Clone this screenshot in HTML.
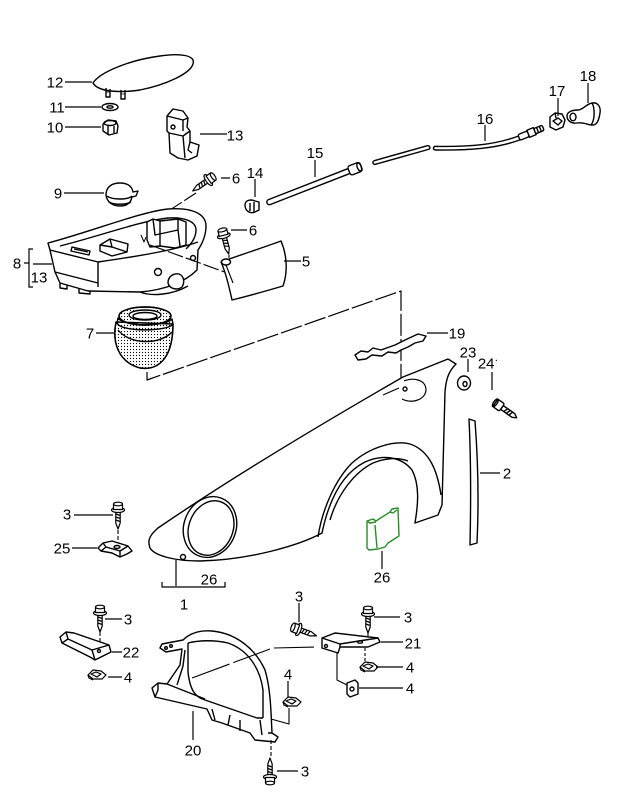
<!DOCTYPE html>
<html><head><meta charset="utf-8"><style>
html,body{margin:0;padding:0;background:#fff}
svg{display:block}
text{font-family:"Liberation Sans",sans-serif;font-size:15px;fill:#000;text-anchor:middle}
</style></head><body>
<svg width="643" height="797" viewBox="0 0 643 797" xmlns="http://www.w3.org/2000/svg">
<defs>
<pattern id="dots" width="3" height="3" patternUnits="userSpaceOnUse"><circle cx="1.5" cy="1.5" r="0.6" fill="#000"/></pattern>
<g id="bolt" stroke="#000" stroke-width="1.2" fill="#fff">
  <path d="M-2.2,8 L-2.2,20 L0,26 L2.2,20 L2.2,8 Z"/>
  <path d="M-2.2,11 L2.2,12.5 M-2.2,14 L2.2,15.5 M-2.2,17 L2.2,18.5" fill="none"/>
  <ellipse cx="0" cy="7" rx="6.5" ry="2.5"/>
  <path d="M-4.5,1 L-4.5,6.5 L4.5,6.5 L4.5,1 Z"/>
  <ellipse cx="0" cy="1" rx="4.5" ry="1.8"/>
</g>
<g id="clip" stroke="#000" stroke-width="1.2" fill="#fff">
  <path d="M0,5 L5,0 L13,1 L18,5 L14,9 L5,9 Z"/>
  <path d="M3,4 L8,2 L13,4 L9,7 Z M0,5 L1,8 L5,10" fill="none"/>
</g>
</defs>

<g fill="none" stroke="#000" stroke-width="1.4" stroke-linejoin="round">

<!-- 12 pad -->
<path d="M93,83 C100,72 130,60 160,56 C180,53 196,55 193,64 C190,74 165,85 140,90 C120,93 98,92 93,83 Z" fill="#fff"/>
<path d="M106,88 L106,97 L110,97 L110,89 M121,90 L121,99 L125,99 L125,90"/>
<path d="M106,92 L110,92 M121,94 L125,94" stroke-width="0.8"/>
<!-- 11 washer -->
<ellipse cx="110" cy="107" rx="8" ry="3.5" fill="#fff"/>
<ellipse cx="110" cy="107" rx="3" ry="1.2"/>
<!-- 10 nut -->
<path d="M103,124 L108,120 L116,121 L118,126 L117,133 L109,135 L103,131 Z" fill="#fff"/>
<ellipse cx="110" cy="123" rx="6" ry="2.5"/>
<path d="M108,126 L108,134 M114,126 L114,133"/>

<!-- 13 clip -->
<path d="M167,116 L173,109 L183,111 L188,118 L187,127 L190,131 L190,142 L199,145 L197,156 L188,160 L178,158 L170,153 L169,133 L167,131 Z" fill="#fff"/>
<path d="M167,116 L183,120 L188,118 M183,120 L183,131 M169,133 L183,136 L190,131 M183,136 L185,158 M190,142 L188,150 L192,153"/>
<circle cx="173" cy="127" r="2"/>

<!-- 9 -->
<path d="M106,195 C106,186 113,183 120,183 C127,183 132,186 133,192 L138,191 L136,196 L132,197 C131,202 128,206 120,206 C112,206 107,202 106,195 Z" fill="#fff"/>
<path d="M107,196 C112,200 128,200 132,196 M109,202 C114,205 126,205 131,202"/>

<!-- 6 upper bolt -->
<use href="#bolt" transform="translate(214,176) rotate(55)"/>
<path d="M196,193 L150,223" stroke-width="1.1" stroke-dasharray="14 3"/>

<!-- 14 -->
<path d="M245,205 C245,200 251,199 255,201 L259,202 L259,210 L255,212 C250,214 245,211 245,205 Z" fill="#fff"/>
<path d="M250,203 L250,211 M254,202 L254,212"/>

<!-- 15 rod -->
<g transform="translate(267,203) rotate(-21.3)">
  <rect x="0" y="-2.6" width="90" height="5.2" rx="2.6" fill="#fff"/>
  <rect x="88" y="-4.8" width="13" height="9.6" rx="2.5" fill="#fff"/>
  <ellipse cx="99" cy="0" rx="2" ry="4.2"/>
</g>

<!-- 16 cable -->
<g transform="translate(373,163) rotate(-15.7)">
  <rect x="0" y="-1.9" width="59" height="3.8" rx="1.9" fill="#fff"/>
</g>
<path d="M435,146.3 C470,147 495,145 520,135.5 M435,150 C470,150.5 497,148.5 521,139.5 M435,146.3 C433,147 433,149.5 435,150"/>
<g transform="translate(519,137.5) rotate(-22)">
  <rect x="0" y="-3" width="10" height="6" rx="1.5" fill="#fff"/>
  <rect x="10" y="-3.8" width="7" height="7.6" fill="#fff"/>
  <rect x="17" y="-2.8" width="9" height="5.6" rx="1.5" fill="#fff"/>
  <path d="M20,-2.8 L20,2.8 M23,-2.8 L23,2.8"/>
</g>

<!-- 17 nut -->
<path d="M550,117 L555,113 L562,114 L565,120 L563,127 L556,130 L550,127 Z" fill="#fff"/>
<path d="M553,121 L558,118 L562,121 L558,125 Z M555,113 L556,118"/>

<!-- 18 knob -->
<path d="M567,116 C567,112 572,110 578,110 C583,110 586,104 592,103 C598,102 601,107 600,113 C599,120 597,126 591,125 C586,124 582,122 577,123 C572,124 567,121 567,116 Z" fill="#fff"/>
<ellipse cx="573" cy="117" rx="3" ry="3.8"/>
<path d="M592,103 C595,108 595,120 591,125"/>

<!-- 8 tank -->
<path d="M48,243 C90,232 140,212 168,209 C192,207 206,214 206,226 C206,236 202,244 198,250 L197,270 C185,282 165,290 140,292 L88,291 L60,283 L55,272 L50,250 Z" fill="#fff"/>
<path d="M60,246 C100,236 140,221 168,218 C186,217 196,222 196,230 C196,238 191,244 186,249"/>
<path d="M50,250 L98,262 C140,256 175,250 198,242"/>
<path d="M98,262 L98,287 M55,272 L98,283"/>
<path d="M72,247 L90,251 L89,255 L71,251 Z" fill="#fff"/>
<path d="M74,249 L88,252"/>
<path d="M100,245 L110,239 L128,244 L127,252 L112,256 L100,251 Z" fill="#fff"/>
<path d="M110,239 L112,247 L127,252 M100,245 L112,247"/>
<path d="M147,222 L153,219 L160,221 L178,219 L186,222 L186,245 L175,248 L160,246 L150,247 L147,240 Z" fill="#fff"/>
<path d="M153,219 L155,235 L178,230 L178,219 M160,221 L160,246 M178,230 L180,246"/>
<path d="M141,235 L144,242 L146,237" stroke-width="1"/>
<circle cx="158" cy="272" r="3.5" fill="#fff"/>
<circle cx="193" cy="258" r="2.5" fill="#fff"/>
<path d="M168,283 C168,276 174,273 179,274 C184,276 185,282 182,287 C178,290 170,290 168,283 Z" fill="#fff"/>
<path d="M60,283 L60,288 L67,289 L67,285 M79,288 L79,293 L90,294 L90,291"/>
<path d="M140,292 C150,296 170,296 188,286" />
<path d="M150,245 L230,274" stroke-width="1.1" stroke-dasharray="16 3"/>

<!-- 6 lower bolt + 5 cover -->
<use href="#bolt" transform="translate(222,229) rotate(-15)"/>
<path d="M229,255 L229,262" stroke-width="1.1" stroke-dasharray="3 2"/>
<path d="M221,262 C240,255 262,248 281,241 C287,255 288,272 283,286 C266,291 248,296 232,300 C229,286 226,273 221,262 Z" fill="#fff"/>
<ellipse cx="226" cy="262" rx="4.5" ry="3" fill="#fff"/>
<path d="M226,265 L233,283" stroke-width="1.1"/>

<!-- 7 dome -->
<path d="M116,322 C112,342 118,362 140,368 C160,371 173,356 173,324 Z" fill="url(#dots)"/>
<path d="M116,322 C112,342 118,362 140,368 C160,371 173,356 173,324"/>
<path d="M118,330 C130,345 160,345 172,332"/>
<path d="M117,323 C120,332 168,332 173,324 L172,319 C165,327 124,327 118,318 Z" fill="url(#dots)"/>
<ellipse cx="145" cy="316" rx="26" ry="9" fill="url(#dots)"/>
<ellipse cx="145" cy="316" rx="26" ry="9" />
<ellipse cx="145" cy="315" rx="16" ry="5" fill="#fff"/>
<ellipse cx="145" cy="316" rx="12" ry="3.5"/>

<!-- dashed hood lines -->
<path d="M147,372 L147,380 L401,291 L401,397" stroke-width="1.2" stroke-dasharray="22 3"/>

<!-- 19 gasket -->
<path d="M355,355 L361,351 L368,352 L373,348 L381,350 L395,345 L405,340 L418,334 L426,336 L423,341 L415,343 L408,347 L401,350 L396,353 L388,352 L382,356 L372,355 L366,359 L358,360 Z" fill="#fff"/>

<!-- 1 fender -->
<path d="M150,548 C147,540 150,535 158,528 Q250,465 403,377 L448,359 L456,364 C448,372 446,380 445,392 L442,505 L438,515 L415,523 C418,505 420,485 412,470 C400,455 380,455 365,462 C345,472 330,495 322,533 C300,545 250,560 200,561 C175,561 155,556 150,548 Z" fill="#fff"/>
<path d="M318,537 C322,510 335,480 352,463 C370,447 395,440 410,444 C428,450 437,468 441,495"/>
<path d="M330,520 C338,493 355,472 373,463 C385,458 398,457 408,461"/>
<ellipse cx="210" cy="527" rx="26" ry="31" transform="rotate(22 210 527)" fill="#fff"/>
<ellipse cx="211" cy="528" rx="22" ry="28" transform="rotate(22 211 528)"/>
<circle cx="183" cy="557" r="2.5"/>
<path d="M383,395 L399,388 M402,399 C412,404 425,400 426,390 C426,380 414,377 404,381" stroke-width="1.2"/>
<circle cx="405" cy="389" r="2"/>

<!-- 23 washer, 24 bolt -->
<ellipse cx="464" cy="383" rx="6.5" ry="7" fill="#fff"/>
<ellipse cx="465" cy="384" rx="2" ry="2.5"/>
<g transform="translate(497,404) rotate(-55)">
  <path d="M-2.3,6 L-2.3,20 L0,24 L2.3,20 L2.3,6 Z" fill="#fff"/>
  <path d="M-2.3,10 L2.3,11.5 M-2.3,13 L2.3,14.5 M-2.3,16 L2.3,17.5"/>
  <rect x="-4.5" y="-2" width="9" height="8" rx="1.5" fill="#fff"/>
  <ellipse cx="0" cy="-2" rx="4.5" ry="1.8"/>
</g>

<!-- 2 strip -->
<path d="M469,419 L475,421 C478,460 479,500 477,543 L470,545 C471,500 471,460 469,419 Z" fill="#fff"/>

<!-- 26 green -->
<g stroke="#2a8c2a">
<path d="M367,521 L373,519 L376,521 L390,512 L392,509 L398,508 L399,536 L388,543 L385,547 L378,549 L369,550 L367,548 Z" fill="#fff"/>
<path d="M367,521 L370,523 L376,522 M375,525 L377,548 M390,512 L393,513 L397,510"/>
</g>

<!-- 25 + bolt 3 -->
<use href="#bolt" transform="translate(118,503)"/>
<path d="M118,530 L118,546" stroke-width="1.1" stroke-dasharray="4 2"/>
<path d="M98,548 L103,543 L112,541 L128,546 L132,551 L127,554 L120,557 L112,553 L101,551 Z" fill="#fff"/>
<path d="M103,543 L106,547 L120,551 L128,546 M106,547 L101,551 M120,551 L120,557"/>
<ellipse cx="117" cy="547" rx="3" ry="1.5"/>

<!-- 26 bracket left -->
<path d="M176,560 L176,586" stroke-width="1.2"/>
<path d="M162,582 L162,587 L225,587 L225,582" stroke-width="1.2"/>

<!-- 22 bracket + bolt + clip -->
<use href="#bolt" transform="translate(100,606)"/>
<path d="M100,632 L100,655" stroke-width="1.1" stroke-dasharray="4 2"/>
<path d="M60,637 L66,632 L74,633 L109,645 L111,652 L95,660 L90,657 L62,643 Z" fill="#fff"/>
<path d="M66,632 L68,639 L92,650 L109,645 M92,650 L95,660 M62,643 L68,639"/>
<circle cx="99" cy="651" r="1.5"/>
<use href="#clip" transform="translate(88,670)"/>

<!-- 20 bracket -->
<path d="M183,640 C190,633 200,630 212,631 C235,633 255,648 265,670 C271,690 271,715 272,733 L278,737 L275,742 L255,740 L250,733 L222,723 L212,720 L207,709 L155,697 L152,688 L158,683 L167,684 L180,665 L182,649 L166,652 L160,648 L162,644 Z" fill="#fff"/>
<path d="M188,643 C200,640 215,640 228,643 C248,650 260,668 263,690 L263,718"/>
<path d="M188,643 L188,672 C190,690 195,697 205,700 L257,718 L263,718"/>
<path d="M185,650 L183,666 L177,685 M167,684 L205,699"/>
<path d="M158,683 L158,690 L155,697 M212,709 L215,720 M230,715 L228,725 M240,720 L240,731 M260,720 L262,735 M272,733 L268,733"/>
<circle cx="166" cy="648" r="1.3"/><circle cx="171" cy="646" r="1.3"/>
<path d="M192,678 L270,649 M274,648 L318,647" stroke-width="1.1" stroke-dasharray="40 4"/>

<!-- 4 mid clip -->
<use href="#clip" transform="translate(283,697)"/>
<path d="M289,708 L289,724 L271,719" stroke-width="1.1"/>

<!-- bottom bolt 3 -->
<path d="M271,740 L271,758" stroke-width="1.1" stroke-dasharray="4 2"/>
<use href="#bolt" transform="translate(270,784) rotate(180)"/>

<!-- 3 mid screw -->
<use href="#bolt" transform="translate(292,627) rotate(-70)"/>

<!-- 21 bracket -->
<use href="#bolt" transform="translate(368,607)"/>
<path d="M368,633 L368,641" stroke-width="1.1" stroke-dasharray="3 2"/>
<path d="M322,638 L335,633 L378,638 L380,642 L368,647 L340,647 L338,653 L322,648 Z" fill="#fff"/>
<path d="M322,638 L340,644 L340,647 M340,644 L378,638"/>
<circle cx="326" cy="646" r="1.5"/>
<ellipse cx="360" cy="642" rx="2.5" ry="1.2"/>
<path d="M365,648 L365,662" stroke-width="1.1" stroke-dasharray="3 2"/>
<use href="#clip" transform="translate(360,662)"/>
<path d="M337,653 L337,680 L347,685" stroke-width="1.1"/>
<path d="M347,683 L355,680 L358,683 L358,694 L350,697 L347,694 Z" fill="#fff"/>
<circle cx="352" cy="689" r="2"/>
</g>

<!-- leader lines -->
<g stroke="#000" stroke-width="1.2" fill="none">
<path d="M65,82 L92,82 M65,107 L101,107 M65,127 L101,127 M200,134 L227,134 M64,193 L104,193 M221,178 L230,178 M255,179 L255,197 M315,160 L315,177 M231,230 L247,230 M284,261 L301,261"/>
<path d="M33,249 L29,249 L29,287 L33,287 M24,263 L29,263 M33,264 L52,264"/>
<path d="M96,333 L114,333 M485,125 L485,141 M558,98 L558,116 M588,83 L588,103 M427,333 L448,333 M468,359 L468,372 M492,372 L492,390 M480,473 L500,473"/>
<path d="M74,515 L113,515 M72,548 L97,548 M382,551 L382,569 M299,603 L299,622 M374,617 L400,617 M381,642 L403,642 M376,667 L403,667 M359,688 L403,688 M105,619 L122,619 M112,652 L122,652 M108,677 L122,677 M288,681 L288,697 M193,711 L193,740 M277,771 L298,771"/>
</g>

<!-- labels -->
<g>
<text x="55" y="87.5">12</text>
<text x="57" y="112.5">11</text>
<text x="55" y="132.5">10</text>
<text x="235" y="140.5">13</text>
<text x="58" y="198.5">9</text>
<text x="236" y="183.5">6</text>
<text x="255" y="178">14</text>
<text x="315" y="158">15</text>
<text x="253" y="235.5">6</text>
<text x="306" y="266.5">5</text>
<text x="17" y="268.5">8</text>
<text x="39" y="282.5">13</text>
<text x="90" y="338.5">7</text>
<text x="485" y="124">16</text>
<text x="557" y="96">17</text>
<text x="588" y="81">18</text>
<text x="457" y="338.5">19</text>
<text x="468" y="357.5">23</text>
<text x="488" y="368.5">24<tspan font-size="11" dy="-5">·</tspan></text>
<text x="507" y="478.5">2</text>
<text x="67" y="519.5">3</text>
<text x="62" y="553.5">25</text>
<text x="209" y="584.5">26</text>
<text x="184" y="609.5">1</text>
<text x="382" y="582.5">26</text>
<text x="299" y="601.5">3</text>
<text x="408" y="622.5">3</text>
<text x="413" y="648.5">21</text>
<text x="410" y="672.5">4</text>
<text x="410" y="693.5">4</text>
<text x="128" y="624.5">3</text>
<text x="131" y="657.5">22</text>
<text x="128" y="682.5">4</text>
<text x="288" y="679.5">4</text>
<text x="193" y="755.5">20</text>
<text x="305" y="776.5">3</text>
</g>
</svg>
</body></html>
